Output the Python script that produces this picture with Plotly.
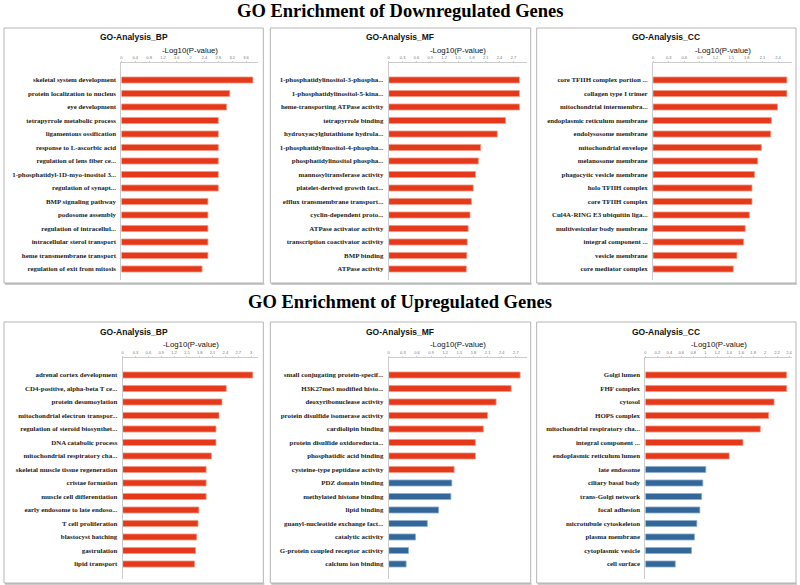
import plotly.graph_objects as go

# ---------------- data ----------------
down_bp_terms = ["skeletal system development", "protein localization to nucleus", "eye development",
                 "tetrapyrrole metabolic process", "ligamentous ossification", "response to L-ascorbic acid",
                 "regulation of lens fiber ce...", "1-phosphatidyl-1D-myo-inositol 3...", "regulation of synapt...",
                 "BMP signaling pathway", "podosome assembly", "regulation of intracellul...",
                 "intracellular sterol transport", "heme transmembrane transport", "regulation of exit from mitosis"]
down_bp_vals = [3.80, 3.13, 3.04, 2.80, 2.80, 2.80, 2.80, 2.80, 2.80, 2.50, 2.50, 2.50, 2.50, 2.50, 2.33]

down_mf_terms = ["1-phosphatidylinositol-3-phospha...", "1-phosphatidylinositol-5-kina...", "heme-transporting ATPase activity",
                 "tetrapyrrole binding", "hydroxyacylglutathione hydrola...", "1-phosphatidylinositol-4-phospha...",
                 "phosphatidylinositol phospha...", "mannosyltransferase activity", "platelet-derived growth fact...",
                 "efflux transmembrane transport...", "cyclin-dependent proto...", "ATPase activator activity",
                 "transcription coactivator activity", "BMP binding", "ATPase activity"]
down_mf_vals = [2.83, 2.83, 2.83, 2.53, 2.35, 1.99, 1.94, 1.88, 1.83, 1.79, 1.76, 1.72, 1.70, 1.69, 1.68]

down_cc_terms = ["core TFIIH complex portion ...", "collagen type I trimer", "mitochondrial intermembra...",
                 "endoplasmic reticulum membrane", "endolysosome membrane", "mitochondrial envelope",
                 "melanosome membrane", "phagocytic vesicle membrane", "holo TFIIH complex", "core TFIIH complex",
                 "Cul4A-RING E3 ubiquitin liga...", "multivesicular body membrane", "integral component ...",
                 "vesicle membrane", "core mediator complex"]
down_cc_vals = [2.57, 2.57, 2.39, 2.27, 2.26, 2.08, 2.01, 1.95, 1.90, 1.90, 1.85, 1.77, 1.74, 1.61, 1.54]

up_bp_terms = ["adrenal cortex development", "CD4-positive, alpha-beta T ce...", "protein desumoylation",
               "mitochondrial electron transpor...", "regulation of steroid biosynthet...", "DNA catabolic process",
               "mitochondrial respiratory cha...", "skeletal muscle tissue regeneration", "cristae formation",
               "muscle cell differentiation", "early endosome to late endoso...", "T cell proliferation",
               "blastocyst hatching", "gastrulation", "lipid transport"]
up_bp_vals = [3.04, 2.42, 2.32, 2.25, 2.18, 2.18, 2.07, 1.95, 1.95, 1.95, 1.78, 1.76, 1.73, 1.70, 1.68]

up_mf_terms = ["small conjugating protein-specif...", "H3K27me3 modified histo...", "deoxyribonuclease activity",
               "protein disulfide isomerase activity", "cardiolipin binding", "protein disulfide oxidoreducta...",
               "phosphatidic acid binding", "cysteine-type peptidase activity", "PDZ domain binding",
               "methylated histone binding", "lipid binding", "guanyl-nucleotide exchange fact...",
               "catalytic activity", "G-protein coupled receptor activity", "calcium ion binding"]
up_mf_vals = [2.79, 2.60, 2.28, 2.10, 2.01, 1.84, 1.84, 1.39, 1.34, 1.32, 1.06, 0.82, 0.57, 0.42, 0.37]
up_mf_sig = 8

up_cc_terms = ["Golgi lumen", "FHF complex", "cytosol", "HOPS complex", "mitochondrial respiratory cha...",
               "integral component ...", "endoplasmic reticulum lumen", "late endosome", "ciliary basal body",
               "trans-Golgi network", "focal adhesion", "microtubule cytoskeleton", "plasma membrane",
               "cytoplasmic vesicle", "cell surface"]
up_cc_vals = [2.36, 2.36, 2.15, 2.06, 1.92, 1.63, 1.40, 1.01, 0.96, 0.94, 0.91, 0.86, 0.82, 0.77, 0.50]
up_cc_sig = 7

main_titles = ["GO Enrichment of Downregulated Genes", "GO Enrichment of Upregulated Genes"]
panel_titles = ["GO-Analysis_BP", "GO-Analysis_MF", "GO-Analysis_CC"]
axis_title = "-Log10(P-value)"

# ---------------- layout helpers ----------------
W, H = 800, 585
RED = "#E6381A"
BLUE = "#336699"

def px(x):
    return x / W

def py(y):
    return 1 - y / H

# (terms, values, n significant, dtick, x0 px, px per unit, box x0, box x1, row)
panels = [
    (down_bp_terms, down_bp_vals, 15, 0.4, 120.7, 34.7, 3, 263, 0),
    (down_mf_terms, down_mf_vals, 15, 0.3, 388.7, 46.3, 270, 531, 0),
    (down_cc_terms, down_cc_vals, 15, 0.3, 653.7, 52.2, 537, 797, 0),
    (up_bp_terms, up_bp_vals, 15, 0.3, 122.0, 42.9, 3, 263, 1),
    (up_mf_terms, up_mf_vals, up_mf_sig, 0.3, 388.7, 47.2, 270, 531, 1),
    (up_cc_terms, up_cc_vals, up_cc_sig, 0.2, 646.0, 60.0, 537, 797, 1),
]

# rows: (box top, box bottom, panel title y, axis title y, plot top, plot bottom, first bar centre)
rows = [
    (28, 283, 37, 50, 63, 280, 80),
    (322, 583, 332, 344.5, 358, 579, 375),
]
SPACING = 13.5
PLOT_RIGHT = {0: 258, 1: 527, 2: 793}

fig = go.Figure()
shapes = []
annotations = []

for i, (terms, vals, nsig, dtick, x0, scale, bx0, bx1, r) in enumerate(panels):
    btop, bbot, ty, aty, ptop, pbot, c0 = rows[r]
    col = i % 3
    xr = PLOT_RIGHT[col]
    xmax = (xr - x0) / scale
    n = len(terms)
    top_pad = (c0 - ptop) / SPACING
    bot_pad = (pbot - (c0 + (n - 1) * SPACING)) / SPACING
    k = i + 1
    xa = "x" if k == 1 else f"x{k}"
    ya = "y" if k == 1 else f"y{k}"
    colors = [RED if j < nsig else BLUE for j in range(n)]
    lines = ["#F09A85" if j < nsig else "#8FAFCF" for j in range(n)]
    fig.add_trace(go.Bar(
        x=vals, y=terms, orientation="h", xaxis=xa, yaxis=ya,
        marker=dict(color=colors, line=dict(color=lines, width=0.8)),
        width=0.45, showlegend=False, hoverinfo="x+y",
    ))
    fig.layout[f"xaxis{'' if k == 1 else k}"] = dict(
        domain=[px(x0), px(xr)], anchor=ya, side="top", range=[0, xmax],
        tick0=0, dtick=dtick, showgrid=False, zeroline=False,
        showline=True, linecolor="#cccccc", linewidth=1,
        ticks="outside", ticklen=1, tickcolor="#cccccc",
        ticklabelstandoff=0,
        tickfont=dict(size=4, color="#777777", family="Arial"),
        fixedrange=True,
    )
    fig.layout[f"yaxis{'' if k == 1 else k}"] = dict(
        domain=[py(pbot), py(ptop)], anchor=xa, type="category",
        categoryorder="array", categoryarray=terms,
        range=[n - 1 + bot_pad, -top_pad], showgrid=False, zeroline=False,
        showline=True, linecolor="#cccccc", linewidth=1, ticks="",
        ticklabelstandoff=3,
        tickfont=dict(size=6.9, color="#222222", family="Liberation Serif, Times New Roman, serif", weight="bold"),
        fixedrange=True,
    )
    # panel box
    shapes.append(dict(type="rect", xref="paper", yref="paper",
                       x0=px(bx0), x1=px(bx1), y0=py(bbot), y1=py(btop),
                       line=dict(color="#b5b5b5", width=1), layer="below"))
    shapes.append(dict(type="line", xref="paper", yref="paper",
                       x0=px(bx0 + 1), x1=px(bx1 + 1), y0=py(bbot + 1), y1=py(bbot + 1),
                       line=dict(color="#999999", width=1)))
    annotations.append(dict(text=f"<b>{panel_titles[col]}</b>", xref="paper", yref="paper",
                            x=px((bx0 + bx1) / 2), y=py(ty), showarrow=False,
                            xanchor="center", yanchor="middle",
                            font=dict(size=8.5, family="Arial, Liberation Sans, sans-serif", color="#111111")))
    annotations.append(dict(text=axis_title, xref="paper", yref="paper",
                            x=px((x0 + xr) / 2), y=py(aty), showarrow=False,
                            xanchor="center", yanchor="middle",
                            font=dict(size=7.8, family="Arial, Liberation Sans, sans-serif", color="#111111")))

for t, yy in zip(main_titles, [11, 302]):
    annotations.append(dict(text=f"<b>{t}</b>", xref="paper", yref="paper", x=0.5, y=py(yy),
                            showarrow=False, xanchor="center", yanchor="middle",
                            font=dict(size=18.5, family="Liberation Serif, Times New Roman, serif", color="#000000")))

fig.update_layout(
    width=W, height=H, margin=dict(l=0, r=0, t=0, b=0),
    paper_bgcolor="white", plot_bgcolor="white",
    shapes=shapes, annotations=annotations, bargap=0.5,
)

fig.write_html("out.html", config={"displayModeBar": False},
               post_script="document.body.style.margin='0';document.body.style.overflow='hidden';")
